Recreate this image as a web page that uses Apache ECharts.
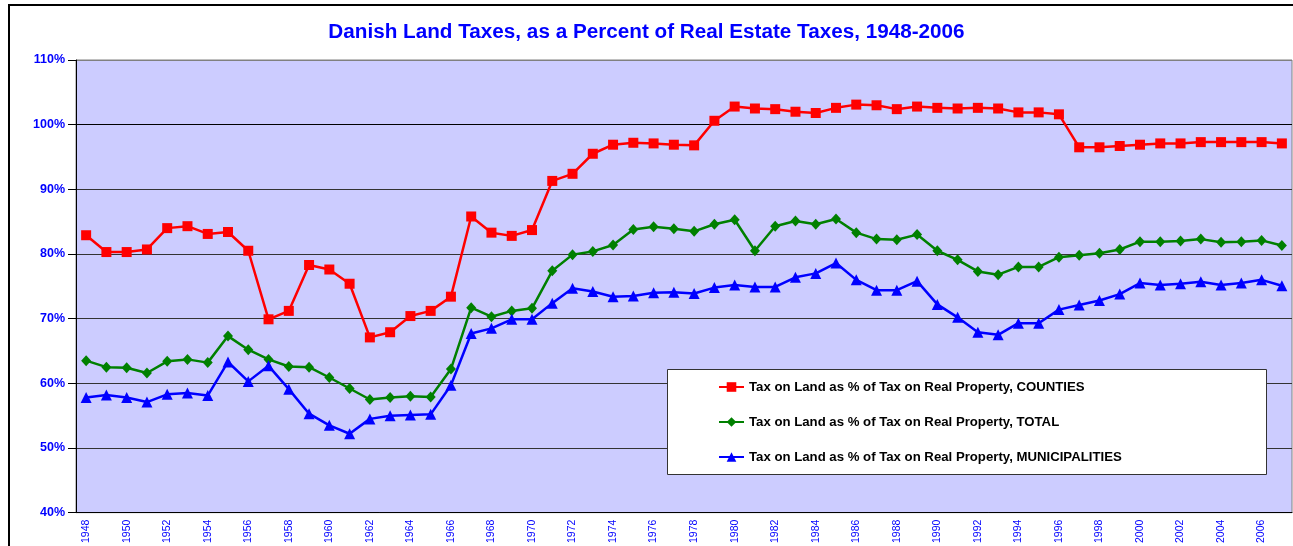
<!DOCTYPE html>
<html>
<head>
<meta charset="utf-8">
<script src="https://cdn.jsdelivr.net/npm/echarts@6/dist/echarts.min.js"></script>
<style>
  html, body { margin: 0; padding: 0; background: #fff; }
  #chart { width: 1293px; height: 546px; }
</style>
</head>
<body>
<div id="chart"></div>
<script>
// years 1948-2007
const years = []
for (let y = 1948; y <= 2007; y++) years.push(String(y))

// Tax on land as % of tax on real property
const counties = [
  82.9, 80.3, 80.3, 80.7, 84.0, 84.3, 83.1, 83.4, 80.5, 69.9,
  71.2, 78.3, 77.6, 75.4, 67.1, 67.9, 70.4, 71.2, 73.4, 85.8,
  83.3, 82.8, 83.7, 91.3, 92.4, 95.5, 96.9, 97.2, 97.1, 96.9,
  96.8, 100.6, 102.8, 102.5, 102.4, 102.0, 101.8, 102.6, 103.1, 103.0,
  102.4, 102.8, 102.6, 102.5, 102.6, 102.5, 101.9, 101.9, 101.6, 96.5,
  96.5, 96.7, 96.9, 97.1, 97.1, 97.3, 97.3, 97.3, 97.3, 97.1
]
const total = [
  63.5, 62.5, 62.4, 61.6, 63.4, 63.7, 63.2, 67.3, 65.2, 63.7,
  62.6, 62.5, 60.9, 59.2, 57.5, 57.8, 58.0, 57.9, 62.2, 71.7,
  70.3, 71.2, 71.6, 77.4, 79.9, 80.4, 81.4, 83.8, 84.2, 83.9,
  83.5, 84.6, 85.3, 80.5, 84.3, 85.1, 84.6, 85.4, 83.3, 82.3,
  82.2, 83.0, 80.5, 79.1, 77.3, 76.8, 78.0, 78.0, 79.5, 79.8,
  80.1, 80.7, 81.9, 81.9, 82.0, 82.3, 81.8, 81.9, 82.1, 81.3
]
const municipalities = [
  57.8, 58.2, 57.8, 57.1, 58.3, 58.5, 58.1, 63.3, 60.3, 62.7,
  59.1, 55.3, 53.5, 52.2, 54.5, 55.0, 55.1, 55.2, 59.7, 67.7,
  68.5, 69.9, 69.9, 72.4, 74.7, 74.2, 73.4, 73.5, 74.0, 74.1,
  73.9, 74.8, 75.2, 74.9, 74.9, 76.4, 77.0, 78.6, 76.0, 74.4,
  74.4, 75.8, 72.2, 70.2, 67.9, 67.5, 69.3, 69.3, 71.4, 72.1,
  72.8, 73.8, 75.5, 75.2, 75.4, 75.7, 75.2, 75.5, 76.0, 75.1
]
const seriesNames = [
  'Tax on Land as % of Tax on Real Property, COUNTIES',
  'Tax on Land as % of Tax on Real Property, TOTAL',
  'Tax on Land as % of Tax on Real Property, MUNICIPALITIES'
]

const font = "'Liberation Sans', Arial, sans-serif"
const chart = echarts.init(document.getElementById('chart'))

const option = {
  animation: false,
  backgroundColor: '#fff',
  title: {
    text: 'Danish Land Taxes, as a Percent of Real Estate Taxes, 1948-2006',
    left: 'center',
    top: 17,
    textStyle: { color: '#0000FF', fontFamily: font, fontWeight: 'bold', fontSize: 20.7 }
  },
  graphic: [
    {
      type: 'rect', z: 0,
      shape: { x: 9, y: 5, width: 1300, height: 600 },
      style: { fill: 'none', stroke: '#000', lineWidth: 2 }
    },
    {
      type: 'rect', z: 10,
      shape: { x: 667.5, y: 369.5, width: 599, height: 105 },
      style: { fill: '#fff', stroke: '#333', lineWidth: 1 }
    }
  ],
  legend: {
    z: 11,
    orient: 'vertical',
    left: 718,
    top: 380,
    padding: 0,
    itemWidth: 25,
    itemHeight: 12,
    itemGap: 21,
    textStyle: { color: '#000', fontFamily: font, fontWeight: 'bold', fontSize: 13.2, lineHeight: 14 },
    data: seriesNames
  },
  grid: {
    left: 76, top: 60, right: 1, bottom: 32,
    show: true,
    backgroundColor: '#CCCCFF',
    borderColor: '#808080',
    borderWidth: 1
  },
  xAxis: {
    type: 'category',
    data: years,
    boundaryGap: true,
    axisLine: { lineStyle: { color: '#000', width: 1 } },
    axisTick: { interval: 0, length: 4, lineStyle: { color: '#000' } },
    axisLabel: {
      interval: 1,
      rotate: 90,
      margin: 7,
      color: '#0000FF',
      fontFamily: font,
      fontSize: 10.5
    },
    splitLine: { show: false }
  },
  yAxis: {
    type: 'value',
    min: 40,
    max: 110,
    interval: 10,
    axisLine: { show: true, lineStyle: { color: '#000', width: 1 } },
    axisTick: { show: true, length: 8, lineStyle: { color: '#000' } },
    axisLabel: {
      formatter: '{value}%',
      margin: 11,
      color: '#0000FF',
      fontFamily: font,
      fontWeight: 'bold',
      fontSize: 12.5
    },
    splitLine: {
      lineStyle: {
        color: ['#333', '#333', '#333', '#333', '#333', '#333', '#000', '#808080'],
        width: 1
      }
    }
  },
  series: [
    {
      name: seriesNames[0],
      type: 'line',
      data: counties,
      symbol: 'rect',
      symbolSize: 10,
      color: '#FF0000',
      lineStyle: { color: '#FF0000', width: 2.5 },
      itemStyle: { color: '#FF0000' }
    },
    {
      name: seriesNames[1],
      type: 'line',
      data: total,
      symbol: 'diamond',
      symbolSize: [10, 11],
      color: '#008000',
      lineStyle: { color: '#008000', width: 2.5 },
      itemStyle: { color: '#008000' }
    },
    {
      name: seriesNames[2],
      type: 'line',
      data: municipalities,
      symbol: 'triangle',
      symbolSize: 11,
      color: '#0000FF',
      lineStyle: { color: '#0000FF', width: 2.5 },
      itemStyle: { color: '#0000FF' }
    }
  ]
}

chart.setOption(option)
</script>
</body>
</html>
